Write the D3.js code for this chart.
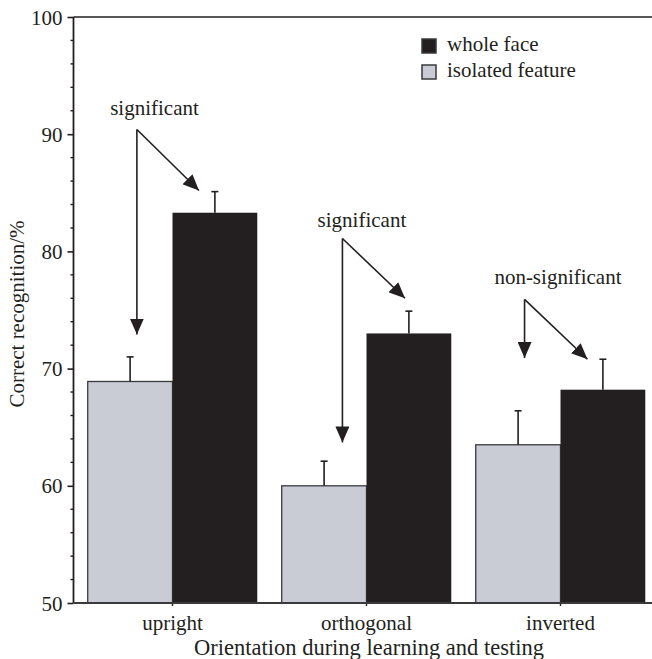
<!DOCTYPE html>
<html>
<head>
<meta charset="utf-8">
<script src="https://cdn.jsdelivr.net/npm/d3@7"></script>
<style>
  body { margin: 0; background: #fff; }
</style>
</head>
<body>
<div id="chart"></div>
<script>
// data
var categories = ["upright", "orthogonal", "inverted"];
var isolatedMean = [68.9, 60.0, 63.5];
var isolatedErr = [2.1, 2.1, 2.9];
var wholeMean = [83.3, 73.0, 68.2];
var wholeErr = [1.8, 1.9, 2.6];
var yTicks = [50, 60, 70, 80, 90, 100];
var legendLabels = ["whole face", "isolated feature"];

// annotations (values in % units)
var annLabels = ["significant", "significant", "non-significant"];
var annLabelY = [91.6, 82.1, 77.2];
var annVertexY = [90.4, 81.1, 75.9];
var annDownTipY = [72.9, 63.7, 70.9];
var annDiagTipY = [85.2, 76.0, 70.8];

var w = 652, h = 659;
var black = "#231f20", grey = "#c9ccd4";
var serif = "'Liberation Serif', 'Times New Roman', serif";

var svg = d3.select("#chart").append("svg")
    .attr("width", w)
    .attr("height", h)
    .style("font-family", serif);

var y = d3.scaleLinear().domain([50, 100]).range([603, 17]);
var x = d3.scaleBand().domain(categories)
    .range([75.5, 657.5])
    .paddingInner(0.126)
    .paddingOuter(0.063);
var bw = x.bandwidth() / 2;

// arrow head
svg.append("defs").append("marker")
    .attr("id", "arrow")
    .attr("markerUnits", "userSpaceOnUse")
    .attr("viewBox", "0 0 16 14")
    .attr("refX", 16).attr("refY", 7)
    .attr("markerWidth", 16).attr("markerHeight", 14)
    .attr("orient", "auto")
    .append("path")
    .attr("d", "M0,0 L16,7 L0,14 Z")
    .style("fill", black);

// top frame line
svg.append("line")
    .attr("x1", 73.5).attr("x2", w)
    .attr("y1", y(100)).attr("y2", y(100))
    .style("stroke", black).style("stroke-width", 1.6);

// bars
var g = svg.append("g");
g.selectAll(".iso")
    .data(categories)
    .enter().append("rect")
    .attr("class", "iso")
    .attr("x", function(d) { return x(d); })
    .attr("y", function(d, i) { return y(isolatedMean[i]); })
    .attr("width", bw)
    .attr("height", function(d, i) { return y(50) - y(isolatedMean[i]); })
    .style("fill", grey)
    .style("stroke", "#3a3a3c")
    .style("stroke-width", 1.3);

g.selectAll(".whole")
    .data(categories)
    .enter().append("rect")
    .attr("class", "whole")
    .attr("x", function(d) { return x(d) + bw; })
    .attr("y", function(d, i) { return y(wholeMean[i]); })
    .attr("width", bw)
    .attr("height", function(d, i) { return y(50) - y(wholeMean[i]); })
    .style("fill", black);

// error bars (upper only)
function errBars(means, errs, off, cls) {
    var e = g.selectAll("." + cls)
        .data(categories)
        .enter().append("g")
        .attr("class", cls);
    e.append("line")
        .attr("x1", function(d) { return x(d) + off; })
        .attr("x2", function(d) { return x(d) + off; })
        .attr("y1", function(d, i) { return y(means[i]); })
        .attr("y2", function(d, i) { return y(means[i] + errs[i]); })
        .style("stroke", black).style("stroke-width", 1.6);
    e.append("line")
        .attr("x1", function(d) { return x(d) + off - 3.5; })
        .attr("x2", function(d) { return x(d) + off + 3.5; })
        .attr("y1", function(d, i) { return y(means[i] + errs[i]); })
        .attr("y2", function(d, i) { return y(means[i] + errs[i]); })
        .style("stroke", black).style("stroke-width", 1.6);
}
errBars(isolatedMean, isolatedErr, bw / 2, "errIso");
errBars(wholeMean, wholeErr, bw * 1.5, "errWhole");

// y axis
var yAxis = d3.axisLeft(y).tickValues(yTicks).tickSize(6).tickPadding(5);
var ya = svg.append("g")
    .attr("transform", "translate(73.5,0)")
    .call(yAxis)
    .attr("font-family", null);
ya.select(".domain").remove();
ya.selectAll("line").style("stroke", black).style("stroke-width", 1.6);
ya.selectAll("text")
    .style("font-family", serif).style("font-size", "21px").style("fill", black)
    .attr("dy", "0.34em");
var minor = d3.range(52, 100, 2).filter(function(v) { return v % 10 != 0; });
svg.append("g").selectAll("line")
    .data(minor)
    .enter().append("line")
    .attr("x1", 70.5).attr("x2", 73.5)
    .attr("y1", function(d) { return y(d); })
    .attr("y2", function(d) { return y(d); })
    .style("stroke", black).style("stroke-width", 1.4);
svg.append("line")
    .attr("x1", 73.5).attr("x2", 73.5)
    .attr("y1", y(100)).attr("y2", y(50))
    .style("stroke", black).style("stroke-width", 1.8);

// x axis
var xa = svg.append("g")
    .attr("transform", "translate(0," + y(50) + ")")
    .call(d3.axisBottom(x).tickSize(3).tickPadding(9))
    .attr("font-family", null);
xa.select(".domain").remove();
xa.selectAll("line").style("stroke", black).style("stroke-width", 1.4);
xa.selectAll("text")
    .style("font-family", serif).style("font-size", "21px").style("fill", black);
svg.append("line")
    .attr("x1", 73.5).attr("x2", w)
    .attr("y1", y(50)).attr("y2", y(50))
    .style("stroke", "#3a3a3c").style("stroke-width", 1.8);

// axis titles
svg.append("text")
    .attr("x", 369).attr("y", 655)
    .style("text-anchor", "middle")
    .style("font-family", serif).style("font-size", "22.5px").style("fill", black)
    .text("Orientation during learning and testing");
svg.append("text")
    .attr("transform", "translate(24," + 314 + ") rotate(-90)")
    .style("text-anchor", "middle")
    .style("font-family", serif).style("font-size", "21px").style("fill", black)
    .text("Correct recognition/%");

// legend
var legendFill = [black, grey];
var legend = svg.selectAll(".legend")
    .data(legendLabels)
    .enter().append("g")
    .attr("class", "legend")
    .attr("transform", function(d, i) { return "translate(422," + (39 + i * 26) + ")"; });
legend.append("rect")
    .attr("width", 14).attr("height", 14)
    .style("fill", function(d, i) { return legendFill[i]; })
    .style("stroke", "#3a3a3c")
    .style("stroke-width", 1.5);
legend.append("text")
    .attr("x", 25).attr("y", 12)
    .style("font-family", serif).style("font-size", "21px").style("fill", black)
    .text(function(d) { return d; });

// significance arrows; x as fractions of the category band
var annVertexX = [0.29, 0.358, 0.288];
var annDiagX = [0.656, 0.727, 0.659];
var annTextX = [0.394, 0.473, 0.485];
var ann = svg.selectAll(".ann")
    .data(categories)
    .enter().append("g")
    .attr("class", "ann");
ann.append("line")
    .attr("x1", function(d, i) { return x(d) + annVertexX[i] * x.bandwidth(); })
    .attr("y1", function(d, i) { return y(annVertexY[i]); })
    .attr("x2", function(d, i) { return x(d) + annVertexX[i] * x.bandwidth(); })
    .attr("y2", function(d, i) { return y(annDownTipY[i]); })
    .style("stroke", black).style("stroke-width", 1.6)
    .attr("marker-end", "url(#arrow)");
ann.append("line")
    .attr("x1", function(d, i) { return x(d) + annVertexX[i] * x.bandwidth(); })
    .attr("y1", function(d, i) { return y(annVertexY[i]); })
    .attr("x2", function(d, i) { return x(d) + annDiagX[i] * x.bandwidth(); })
    .attr("y2", function(d, i) { return y(annDiagTipY[i]); })
    .style("stroke", black).style("stroke-width", 1.6)
    .attr("marker-end", "url(#arrow)");
ann.append("text")
    .attr("x", function(d, i) { return x(d) + annTextX[i] * x.bandwidth(); })
    .attr("y", function(d, i) { return y(annLabelY[i]); })
    .style("text-anchor", "middle")
    .style("font-family", serif).style("font-size", "21px").style("fill", black)
    .text(function(d, i) { return annLabels[i]; });
</script>
</body>
</html>
